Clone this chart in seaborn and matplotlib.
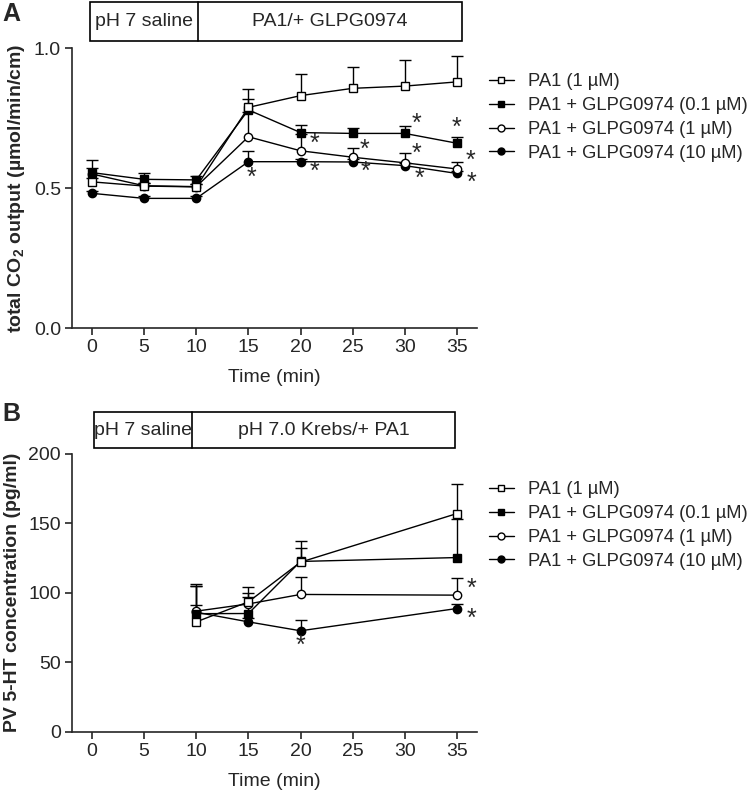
import numpy as np
import pandas as pd
import matplotlib
matplotlib.use("Agg")
import matplotlib.pyplot as plt
import seaborn as sns
from matplotlib.patches import Rectangle
from matplotlib.lines import Line2D

sns.set_style("ticks")
plt.rcParams['font.family'] = ['Liberation Sans', 'DejaVu Sans']
plt.rcParams['mathtext.fontset'] = 'custom'
plt.rcParams['mathtext.rm'] = 'Liberation Sans'
plt.rcParams['mathtext.bf'] = 'Liberation Sans:bold'

# ---------------- data ----------------
series_labels = ["PA1 (1 µM)", "PA1 + GLPG0974 (0.1 µM)",
                 "PA1 + GLPG0974 (1 µM)", "PA1 + GLPG0974 (10 µM)"]

time_A = [0, 5, 10, 15, 20, 25, 30, 35]
A_pa1 = [0.522, 0.507, 0.504, 0.788, 0.830, 0.856, 0.864, 0.879]
A_pa1_err = [0.015, 0.010, 0.010, 0.064, 0.077, 0.077, 0.093, 0.093]
A_g01 = [0.555, 0.531, 0.529, 0.779, 0.698, 0.695, 0.695, 0.660]
A_g01_err = [0.045, 0.024, 0.014, 0.040, 0.028, 0.020, 0.027, 0.023]
A_g1 = [0.550, 0.508, 0.505, 0.683, 0.633, 0.610, 0.590, 0.568]
A_g1_err = [0.020, 0.010, 0.010, 0.090, 0.060, 0.034, 0.034, 0.026]
A_g10 = [0.481, 0.463, 0.463, 0.594, 0.594, 0.593, 0.580, 0.552]
A_g10_err = [0.010, 0.008, 0.008, 0.038, 0.010, 0.010, 0.010, 0.010]

time_B = [10, 15, 20, 35]
B_pa1 = [79.1, 93.5, 122.0, 156.9]
B_pa1_err = [27, 11, 15, 21]
B_g01 = [85.0, 85.1, 122.5, 125.3]
B_g01_err = [20, 12, 10, 28]
B_g1 = [86.8, 92.0, 98.8, 98.3]
B_g1_err = [18, 8, 12.6, 12.4]
B_g10 = [86.0, 79.1, 72.7, 88.7]
B_g10_err = [5, 3, 7.6, 3]

starsA_x = [15.3, 21.3, 21.3, 26.1, 26.2, 31.1, 31.1, 31.4, 35.0, 36.3, 36.4]
starsA_y = [0.535, 0.657, 0.558, 0.636, 0.558, 0.730, 0.623, 0.532, 0.714, 0.597, 0.519]
starsB_x = [20.0, 36.4, 36.4]
starsB_y = [62.0, 102.5, 81.0]

xticks = [0, 5, 10, 15, 20, 25, 30, 35]
yticks_A = [0.0, 0.5, 1.0]
yticks_B = [0, 50, 100, 150, 200]

# ---------------- styles ----------------
styles = {
    series_labels[0]: dict(marker='s', mfc='white'),
    series_labels[1]: dict(marker='s', mfc='black'),
    series_labels[2]: dict(marker='o', mfc='white'),
    series_labels[3]: dict(marker='o', mfc='black'),
}
draw_order = [3, 2, 1, 0]

FS = 14
LFS = 13.2
fig = plt.figure(figsize=(7.55, 7.91), dpi=100)
axA = fig.add_axes([0.0954, 0.5853, 0.536, 0.354])
axB = fig.add_axes([0.0954, 0.0746, 0.536, 0.352])


def draw_panel(ax, t, ys, errs, yticks, ylim_top):
    for i in draw_order:
        lab = series_labels[i]
        st = styles[lab]
        y = np.array(ys[i]); e = np.array(errs[i])
        ax.errorbar(t, y, yerr=[np.zeros_like(e), e], fmt='none', ecolor='black',
                    elinewidth=1.0, capsize=0, zorder=2 + 0.1 * (3 - i))
        ax.plot(t, y + e, linestyle='none', marker='_', markersize=8,
                markeredgewidth=1.0, color='black', zorder=2 + 0.1 * (3 - i))
        df = pd.DataFrame({'t': t, 'y': y})
        sns.lineplot(data=df, x='t', y='y', ax=ax, color='black', linewidth=1.0,
                     marker=st['marker'], markersize=6,
                     markerfacecolor=st['mfc'], markeredgecolor='black',
                     markeredgewidth=1.0, zorder=3 + 0.1 * (3 - i), legend=False)
    ax.set_xlim(-1.92, 36.9)
    ax.set_ylim(0, ylim_top)
    ax.set_xticks(xticks)
    ax.set_yticks(yticks)
    ax.spines['top'].set_visible(False)
    ax.spines['right'].set_visible(False)
    for s in ('left', 'bottom'):
        ax.spines[s].set_linewidth(1.2)
    ax.tick_params(axis='both', labelsize=FS, width=1.2, length=5, direction='out',
                   pad=3)
    ax.set_xlabel("Time (min)", fontsize=FS, labelpad=9)


draw_panel(axA, time_A, [A_pa1, A_g01, A_g1, A_g10],
           [A_pa1_err, A_g01_err, A_g1_err, A_g10_err], yticks_A, 1.0)
axA.set_yticklabels(["0.0", "0.5", "1.0"])
axA.set_ylabel(r"total CO$_\mathbf{2}$ output (µmol/min/cm)", fontsize=FS,
               fontweight='bold', labelpad=5)

draw_panel(axB, time_B, [B_pa1, B_g01, B_g1, B_g10],
           [B_pa1_err, B_g01_err, B_g1_err, B_g10_err], yticks_B, 200)
axB.set_ylabel("PV 5-HT concentration (pg/ml)", fontsize=FS,
               fontweight='bold', labelpad=5)

for x, y in zip(starsA_x, starsA_y):
    axA.text(x, y, "*", fontsize=18, ha='center', va='center')
for x, y in zip(starsB_x, starsB_y):
    axB.text(x, y, "*", fontsize=18, ha='center', va='center')


def top_box(ax, x0, xd, x1, y0, y1, t1, t2):
    tr = ax.get_xaxis_transform()
    ax.add_patch(Rectangle((x0, y0), x1 - x0, y1 - y0, transform=tr, fill=False,
                           edgecolor='black', linewidth=1.2, clip_on=False))
    ax.add_line(Line2D([xd, xd], [y0, y1], transform=tr, color='black',
                       linewidth=1.2, clip_on=False))
    ax.text((x0 + xd) / 2, (y0 + y1) / 2, t1, transform=tr, ha='center',
            va='center', fontsize=FS)
    ax.text((xd + x1) / 2, (y0 + y1) / 2, t2, transform=tr, ha='center',
            va='center', fontsize=FS)


top_box(axA, -0.2, 10.15, 35.5, 1.025, 1.166, "pH 7 saline", "PA1/+ GLPG0974")
top_box(axB, 0.15, 9.6, 34.8, 1.019, 1.150, "pH 7 saline", "pH 7.0 Krebs/+ PA1")

fig.text(0.003, 0.997, "A", fontsize=18, fontweight='bold', ha='left', va='top')
fig.text(0.003, 0.492, "B", fontsize=18, fontweight='bold', ha='left', va='top')

# legends
handles = []
for lab in series_labels:
    st = styles[lab]
    handles.append(Line2D([], [], color='black', linewidth=1.0, marker=st['marker'],
                          markersize=5, markerfacecolor=st['mfc'],
                          markeredgecolor='black', markeredgewidth=1.0))
for ypix in (73, 481):
    fig.legend(handles, series_labels, loc='upper left',
               bbox_to_anchor=(489 / 755, 1 - ypix / 791), frameon=False,
               fontsize=LFS, handlelength=1.35, handletextpad=0.75,
               labelspacing=0.38, borderpad=0, borderaxespad=0)

fig.savefig("out.png", dpi=100)
